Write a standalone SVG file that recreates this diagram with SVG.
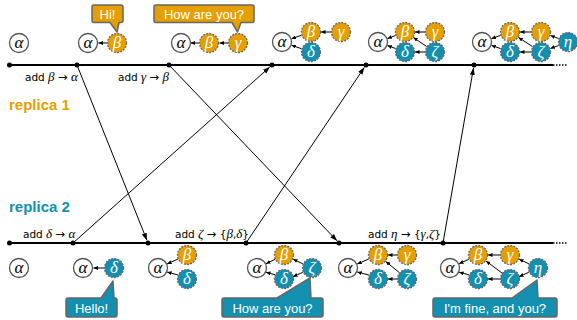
<svg xmlns="http://www.w3.org/2000/svg" width="577" height="320" viewBox="0 0 577 320">
<defs>
<style>
.tl{stroke:#000;stroke-width:2;fill:none}
.dot{fill:#000}
.msg{stroke:#000;stroke-width:1;fill:none;marker-end:url(#big)}
.ed{stroke:#000;stroke-width:1;fill:none;marker-end:url(#small)}
.a{fill:#fff;stroke:#555;stroke-width:1.3}
.o{fill:#E69F00;stroke:#666;stroke-width:1.3;stroke-dasharray:2 1.2}
.t{fill:#1390B0;stroke:#666;stroke-width:1.3;stroke-dasharray:2 1.2}
.g{font-family:"Liberation Serif","DejaVu Serif",serif;font-style:italic;font-size:17px;text-anchor:middle}
.gw{fill:#fff}
.gb{fill:#000}
.lbl{font-family:"DejaVu Sans","Liberation Sans",sans-serif;font-size:10.5px;fill:#000}
.lg{font-family:"Liberation Serif","DejaVu Serif",serif;font-style:italic;font-size:13px}
.ar{font-family:"DejaVu Sans",sans-serif;font-size:11.5px}
.ob{fill:#E69F00;stroke:#666;stroke-width:1.5;stroke-linejoin:round}
.tb{fill:#1390B0;stroke:#666;stroke-width:1.5;stroke-linejoin:round}
.bt{font-family:"Liberation Sans",Arial,sans-serif;font-size:13px;fill:#fff;text-anchor:middle}
.rep{font-family:"Liberation Sans",Arial,sans-serif;font-size:15px;font-weight:bold}
</style>
<marker id="big" markerUnits="userSpaceOnUse" markerWidth="8" markerHeight="6" refX="7" refY="3" orient="auto"><path d="M0,0.4 L7,3 L0,5.6 z" fill="#000"/></marker>
<marker id="small" markerUnits="userSpaceOnUse" markerWidth="5" markerHeight="4" refX="4.5" refY="2" orient="auto"><path d="M0,0 L4.5,2 L0,4 z" fill="#000"/></marker>
</defs>

<g id="replica-labels">
<text class="rep" x="9" y="110" fill="#E69F00">replica 1</text>
<text class="rep" x="9" y="212" fill="#1390B0">replica 2</text>
</g>

<g id="timelines">
<line class="tl" x1="9" y1="65" x2="553" y2="65"/>
<line x1="553" y1="65" x2="568" y2="65" stroke="#000" stroke-width="1.5" stroke-dasharray="1.5 1.5"/>
<line class="tl" x1="9" y1="243" x2="553" y2="243"/>
<line x1="553" y1="243" x2="568" y2="243" stroke="#000" stroke-width="1.5" stroke-dasharray="1.5 1.5"/>
<circle class="dot" cx="9.5" cy="65" r="2.5"/>
<circle class="dot" cx="77" cy="65" r="2.5"/>
<circle class="dot" cx="169" cy="65" r="2.5"/>
<circle class="dot" cx="272" cy="65" r="2.5"/>
<circle class="dot" cx="366" cy="65" r="2.5"/>
<circle class="dot" cx="474" cy="65" r="2.5"/>
<circle class="dot" cx="9.5" cy="243" r="2.5"/>
<circle class="dot" cx="73" cy="243" r="2.5"/>
<circle class="dot" cx="148" cy="243" r="2.5"/>
<circle class="dot" cx="246" cy="243" r="2.5"/>
<circle class="dot" cx="339" cy="243" r="2.5"/>
<circle class="dot" cx="443" cy="243" r="2.5"/>
</g>

<g id="connectors">
<line class="msg" x1="77" y1="65" x2="146.9" y2="240.2"/>
<line class="msg" x1="73" y1="243" x2="269.8" y2="67"/>
<line class="msg" x1="169" y1="65" x2="337" y2="240.8"/>
<line class="msg" x1="246" y1="243" x2="364.3" y2="67.5"/>
<line class="msg" x1="443" y1="243" x2="473.5" y2="68"/>
</g>

<g id="op-labels">
<text class="lbl" x="25" y="81">add <tspan class="lg">β</tspan> <tspan class="ar">→</tspan> <tspan class="lg">α</tspan></text>
<text class="lbl" x="118" y="81">add <tspan class="lg">γ</tspan> <tspan class="ar">→</tspan> <tspan class="lg">β</tspan></text>
<text class="lbl" x="23" y="238">add <tspan class="lg">δ</tspan> <tspan class="ar">→</tspan> <tspan class="lg">α</tspan></text>
<text class="lbl" x="175" y="238">add <tspan class="lg">ζ</tspan> <tspan class="ar">→</tspan> {<tspan class="lg">β</tspan>,<tspan class="lg">δ</tspan>}</text>
<text class="lbl" x="368" y="238">add <tspan class="lg">η</tspan> <tspan class="ar">→</tspan> {<tspan class="lg">γ</tspan>,<tspan class="lg">ζ</tspan>}</text>
</g>

<g id="bubbles">
<path class="ob" d="M94,5 H121 Q123,5 123,7 V20.5 Q123,22.5 121,22.5 H119 L117,32 L110,22.5 H94 Q92,22.5 92,20.5 V7 Q92,5 94,5 Z"/>
<text class="bt" x="107.5" y="18.5">Hi!</text>
<path class="ob" d="M156,5 H252 Q254,5 254,7 V20.5 Q254,22.5 252,22.5 H241 L237.5,32 L232,22.5 H156 Q154,22.5 154,20.5 V7 Q154,5 156,5 Z"/>
<text class="bt" x="204" y="18.5">How are you?</text>
<path class="tb" d="M68,298 H101 L113,281 L114,298 H115 Q117,298 117,300 V315 Q117,317 115,317 H68 Q66,317 66,315 V300 Q66,298 68,298 Z"/>
<text class="bt" x="91.5" y="312.5">Hello!</text>
<path class="tb" d="M224,298 H277 L310,278 L311,298 H321 Q323,298 323,300 V315 Q323,317 321,317 H224 Q222,317 222,315 V300 Q222,298 224,298 Z"/>
<text class="bt" x="272.5" y="312.5">How are you?</text>
<path class="tb" d="M435,298 H512 L537,280 L538,298 H555 Q557,298 557,300 V315 Q557,317 555,317 H435 Q433,317 433,315 V300 Q433,298 435,298 Z"/>
<text class="bt" x="495" y="312.5">I'm fine, and you?</text>
</g>

<!-- top replica states -->
<g id="top1">
<circle class="a" cx="19" cy="43" r="9.5"/><text class="g gb" x="19" y="48">α</text>
</g>
<g id="top2">
<line class="ed" x1="107" y1="43" x2="98.5" y2="43"/>
<circle class="a" cx="88" cy="43" r="9.5"/><text class="g gb" x="88" y="48">α</text>
<circle class="o" cx="117" cy="43" r="9.5"/><text class="g gw" x="117" y="48">β</text>
</g>
<g id="top3">
<line class="ed" x1="199" y1="43" x2="190.5" y2="43"/>
<line class="ed" x1="228" y1="43" x2="219.5" y2="43"/>
<circle class="a" cx="181" cy="43" r="9.5"/><text class="g gb" x="181" y="48">α</text>
<circle class="o" cx="209" cy="43" r="9.5"/><text class="g gw" x="209" y="48">β</text>
<circle class="o" cx="238" cy="43" r="9.5"/><text class="g gw" x="238" y="48">γ</text>
</g>
<g id="top4">
<line class="ed" x1="301.5" y1="35.3" x2="291.5" y2="38.7"/>
<line class="ed" x1="301.5" y1="48.7" x2="291.5" y2="45.3"/>
<line class="ed" x1="331" y1="32" x2="321" y2="32"/>
<circle class="a" cx="282" cy="42" r="9.5"/><text class="g gb" x="282" y="47">α</text>
<circle class="o" cx="311" cy="32" r="9.5"/><text class="g gw" x="311" y="37">β</text>
<circle class="o" cx="341" cy="32" r="9.5"/><text class="g gw" x="341" y="37">γ</text>
<circle class="t" cx="311" cy="52" r="9.5"/><text class="g gw" x="311" y="57">δ</text>
</g>
<g id="top5">
<line class="ed" x1="395.6" y1="35.5" x2="387.4" y2="38.5"/>
<line class="ed" x1="395.6" y1="48.5" x2="387.4" y2="45.5"/>
<line class="ed" x1="425" y1="32" x2="415" y2="32"/>
<line class="ed" x1="425" y1="52" x2="415" y2="52"/>
<line class="ed" x1="426.7" y1="46.5" x2="413.3" y2="37.5"/>
<circle class="a" cx="378" cy="42" r="9.5"/><text class="g gb" x="378" y="47">α</text>
<circle class="o" cx="405" cy="32" r="9.5"/><text class="g gw" x="405" y="37">β</text>
<circle class="o" cx="435" cy="32" r="9.5"/><text class="g gw" x="435" y="37">γ</text>
<circle class="t" cx="405" cy="52" r="9.5"/><text class="g gw" x="405" y="57">δ</text>
<circle class="t" cx="435" cy="52" r="9.5"/><text class="g gw" x="435" y="57">ζ</text>
</g>
<g id="top6">
<line class="ed" x1="500.6" y1="35.4" x2="491.4" y2="38.6"/>
<line class="ed" x1="500.6" y1="48.6" x2="491.4" y2="45.4"/>
<line class="ed" x1="531" y1="32" x2="520" y2="32"/>
<line class="ed" x1="531" y1="52" x2="520" y2="52"/>
<line class="ed" x1="532.6" y1="46.6" x2="518.4" y2="37.4"/>
<line class="ed" x1="558.6" y1="38.5" x2="550.4" y2="35.5"/>
<line class="ed" x1="558.6" y1="45.5" x2="550.4" y2="48.5"/>
<circle class="a" cx="482" cy="42" r="9.5"/><text class="g gb" x="482" y="47">α</text>
<circle class="o" cx="510" cy="32" r="9.5"/><text class="g gw" x="510" y="37">β</text>
<circle class="o" cx="541" cy="32" r="9.5"/><text class="g gw" x="541" y="37">γ</text>
<circle class="t" cx="510" cy="52" r="9.5"/><text class="g gw" x="510" y="57">δ</text>
<circle class="t" cx="541" cy="52" r="9.5"/><text class="g gw" x="541" y="57">ζ</text>
<circle class="t" cx="568" cy="42" r="9.5"/><text class="g gw" x="568" y="47">η</text>
</g>

<!-- bottom replica states -->
<g id="bot1">
<circle class="a" cx="19" cy="268" r="9.5"/><text class="g gb" x="19" y="273">α</text>
</g>
<g id="bot2">
<line class="ed" x1="104" y1="268" x2="93.5" y2="268"/>
<circle class="a" cx="83" cy="268" r="9.5"/><text class="g gb" x="83" y="273">α</text>
<circle class="t" cx="114" cy="268" r="9.5"/><text class="g gw" x="114" y="273">δ</text>
</g>
<g id="bot3">
<line class="ed" x1="177.9" y1="259.1" x2="167.1" y2="263.9"/>
<line class="ed" x1="177.9" y1="274.9" x2="167.1" y2="272.1"/>
<circle class="a" cx="158" cy="268" r="9.5"/><text class="g gb" x="158" y="273">α</text>
<circle class="o" cx="187" cy="255" r="9.5"/><text class="g gw" x="187" y="260">β</text>
<circle class="t" cx="187" cy="279" r="9.5"/><text class="g gw" x="187" y="284">δ</text>
</g>
<g id="bot4">
<line class="ed" x1="275" y1="259.3" x2="266" y2="263.7"/>
<line class="ed" x1="275" y1="274.7" x2="266" y2="272.3"/>
<line class="ed" x1="302.9" y1="263.8" x2="293.1" y2="259.2"/>
<line class="ed" x1="302.9" y1="272.2" x2="293.1" y2="276.8"/>
<circle class="a" cx="257" cy="268" r="9.5"/><text class="g gb" x="257" y="273">α</text>
<circle class="o" cx="284" cy="255" r="9.5"/><text class="g gw" x="284" y="260">β</text>
<circle class="t" cx="284" cy="279" r="9.5"/><text class="g gw" x="284" y="284">δ</text>
<circle class="t" cx="312" cy="268" r="9.5"/><text class="g gw" x="312" y="273">ζ</text>
</g>
<g id="bot5">
<line class="ed" x1="368.8" y1="259" x2="357.2" y2="264"/>
<line class="ed" x1="368.8" y1="275" x2="357.2" y2="272"/>
<line class="ed" x1="397" y1="255" x2="388" y2="255"/>
<line class="ed" x1="397" y1="279" x2="388" y2="279"/>
<line class="ed" x1="399.3" y1="272.6" x2="385.7" y2="261.4"/>
<circle class="a" cx="348" cy="268" r="9.5"/><text class="g gb" x="348" y="273">α</text>
<circle class="o" cx="378" cy="255" r="9.5"/><text class="g gw" x="378" y="260">β</text>
<circle class="o" cx="407" cy="255" r="9.5"/><text class="g gw" x="407" y="260">γ</text>
<circle class="t" cx="378" cy="279" r="9.5"/><text class="g gw" x="378" y="284">δ</text>
<circle class="t" cx="407" cy="279" r="9.5"/><text class="g gw" x="407" y="284">ζ</text>
</g>
<g id="bot6">
<line class="ed" x1="468.9" y1="259.2" x2="459.1" y2="263.8"/>
<line class="ed" x1="468.9" y1="274.8" x2="459.1" y2="272.2"/>
<line class="ed" x1="500" y1="255" x2="488" y2="255"/>
<line class="ed" x1="500" y1="279" x2="488" y2="279"/>
<line class="ed" x1="502" y1="273" x2="486" y2="261"/>
<line class="ed" x1="528.9" y1="263.8" x2="519.1" y2="259.2"/>
<line class="ed" x1="528.9" y1="272.2" x2="519.1" y2="276.8"/>
<circle class="a" cx="450" cy="268" r="9.5"/><text class="g gb" x="450" y="273">α</text>
<circle class="o" cx="478" cy="255" r="9.5"/><text class="g gw" x="478" y="260">β</text>
<circle class="o" cx="510" cy="255" r="9.5"/><text class="g gw" x="510" y="260">γ</text>
<circle class="t" cx="478" cy="279" r="9.5"/><text class="g gw" x="478" y="284">δ</text>
<circle class="t" cx="510" cy="279" r="9.5"/><text class="g gw" x="510" y="284">ζ</text>
<circle class="t" cx="538" cy="268" r="9.5"/><text class="g gw" x="538" y="273">η</text>
</g>
</svg>
